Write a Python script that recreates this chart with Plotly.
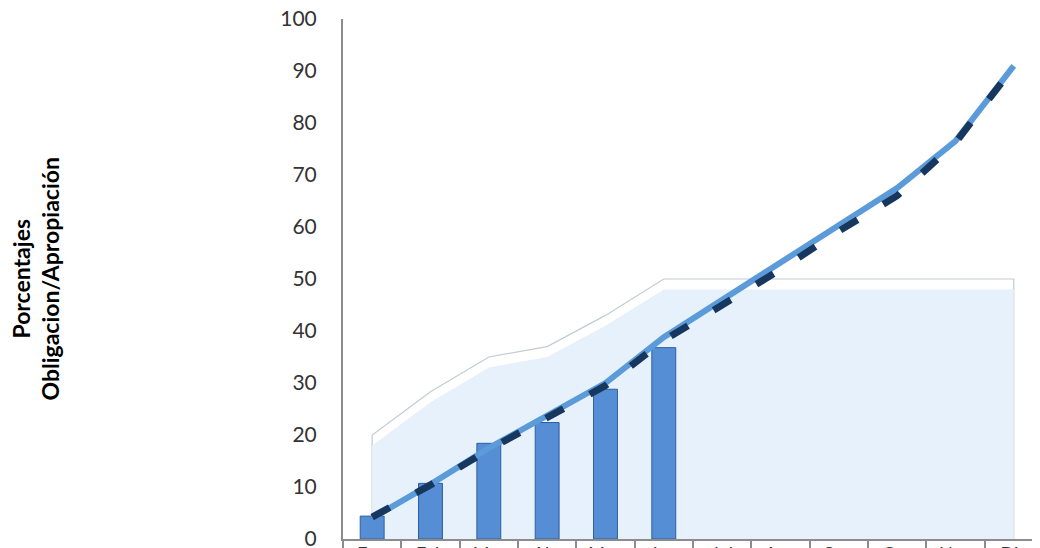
import plotly.graph_objects as go

meses = ["Ene", "Feb", "Mar", "Abr", "May", "Jun", "Jul", "Ago", "Sep", "Oct", "Nov", "Dic"]

# ejecucion acumulada por mes (barras)
ejecutado = [4.4, 10.7, 18.4, 22.4, 28.8, 36.8]
# linea clara
programado = [4.0, 10.5, 17.5, 23.7, 30.0, 38.8, 46.0, 53.0, 60.5, 67.5, 76.5, 91.0]
# linea punteada
proyectado = [4.2, 10.4, 17.2, 23.3, 29.5, 38.2, 45.0, 51.8, 59.2, 66.0, 76.2, 90.8]
# area de fondo
referencia = [20, 28.3, 35, 37, 43, 50, 50, 50, 50, 50, 50, 50]

y_ticks = list(range(0, 101, 10))
y_title = "<b>Porcentajes<br>Obligacion/Apropiación</b>"

x_rng = [-0.5, 11.45]

fig = go.Figure()

# area with a light top rim, closed down to zero at both ends
area_x = [meses[0]] + meses + [meses[-1]]
fig.add_trace(go.Scatter(
    x=area_x, y=[0] + referencia + [0], mode="lines", fill="toself",
    fillcolor="#FFFFFF", line=dict(color="#C3CBD4", width=1.2),
    hoverinfo="skip"))
fig.add_trace(go.Scatter(
    x=area_x, y=[0] + [v - 2.0 for v in referencia] + [0], mode="lines", fill="toself",
    fillcolor="#E7F1FC", line=dict(width=0),
    hoverinfo="skip"))

# bars and lines sit on an overlay axis so they draw above the area
fig.add_trace(go.Bar(
    x=meses[:len(ejecutado)], y=ejecutado, width=0.41, yaxis="y2",
    marker=dict(color="#558ED5", line=dict(color="#2F5F9E", width=1))))
fig.add_trace(go.Scatter(
    x=meses, y=programado, mode="lines", yaxis="y2",
    line=dict(color="#5B9BDA", width=6)))
fig.add_trace(go.Scatter(
    x=meses, y=proyectado, mode="lines", yaxis="y2",
    line=dict(color="#17375E", width=7, dash="20px,30px")))

# page body has an 8px margin, so the figure is 8px smaller each way
fig.update_layout(
    width=1032, height=540,
    margin=dict(l=335, r=0, t=11, b=9),
    paper_bgcolor="white", plot_bgcolor="white",
    showlegend=False,
    font=dict(family="Lato, Carlito, sans-serif", color="#333333"),
    xaxis=dict(
        type="category", categoryorder="array", categoryarray=meses, range=x_rng,
        showline=True, linecolor="#8C8C8C", linewidth=2,
        ticks="outside", tickson="boundaries", ticklen=12, tickwidth=2, tickcolor="#8C8C8C",
        showgrid=False, tickfont=dict(size=18, color="#333333"),
        ticklabelstandoff=-3, ticklabeloverflow="allow", automargin=False),
    yaxis=dict(
        range=[0, 100], tickvals=y_ticks, showline=True, linecolor="#8C8C8C", linewidth=2,
        ticks="", showgrid=False, zeroline=False, tickfont=dict(size=21, color="#333333"),
        ticklabelstandoff=20, ticklabeloverflow="allow", automargin=False),
    yaxis2=dict(overlaying="y", range=[0, 100], visible=False, showgrid=False, zeroline=False),
    annotations=[dict(
        text=y_title, textangle=-90, xref="paper", yref="paper",
        x=(27.5 - 335) / 697, y=0.5, xanchor="center", yanchor="middle", showarrow=False,
        font=dict(size=23, color="#000000"))],
)

fig.write_html("out.html")
